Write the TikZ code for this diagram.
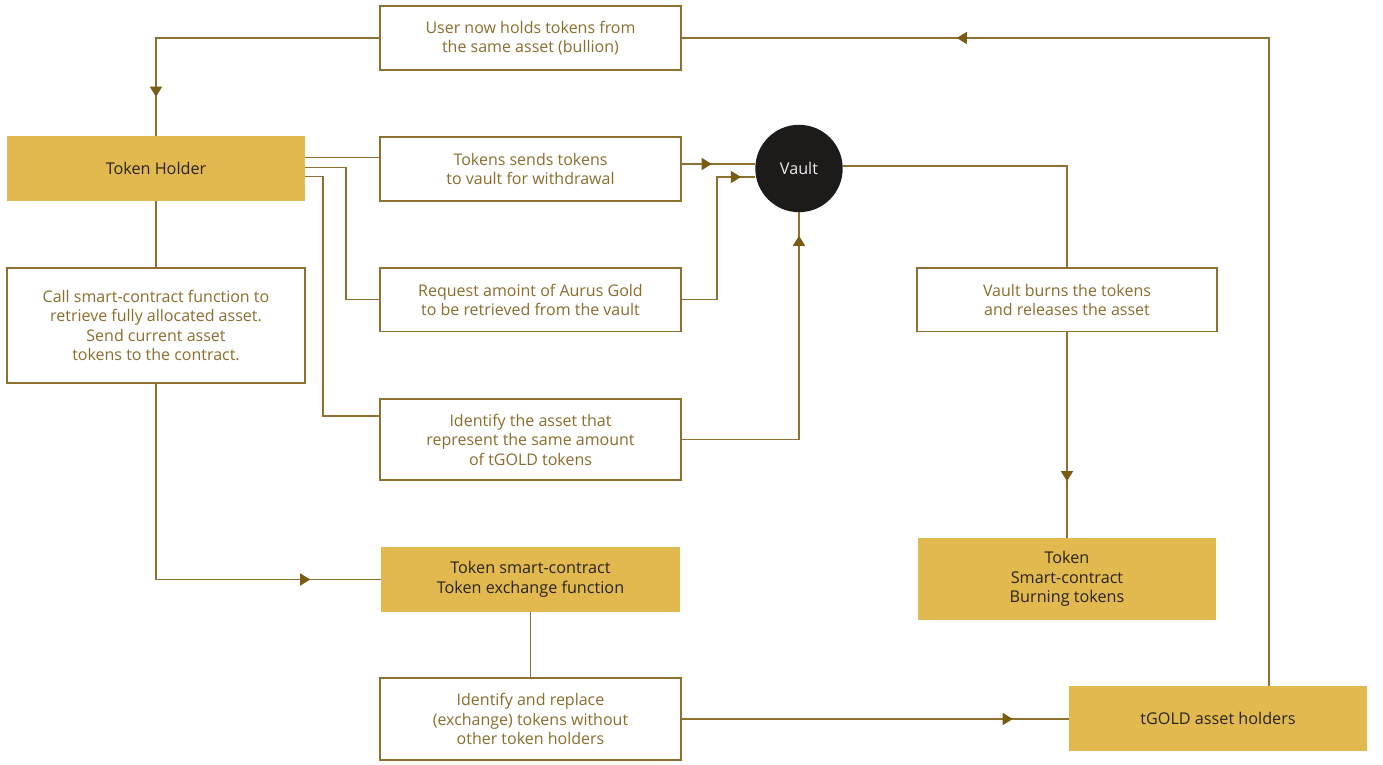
\documentclass[tikz,border=0pt]{standalone}
\usepackage{fontspec}
\setmainfont{Open Sans}
\usetikzlibrary{arrows.meta,decorations.markings}
\definecolor{linec}{HTML}{8E7130}
\definecolor{arrowc}{HTML}{7B5B12}
\definecolor{textc}{HTML}{8B6D2E}
\definecolor{goldfill}{HTML}{E2B94F}
\definecolor{darktext}{HTML}{2A241A}
\definecolor{vaultc}{HTML}{1D1B19}
\pgfdeclarelayer{bg}
\pgfsetlayers{bg,main}
\tikzset{
  wbox/.style={draw=linec, line width=1.4pt, fill=white, text=textc, align=center, inner sep=0pt,
    font=\fontsize{16}{19.5}\selectfont},
  gbox/.style={fill=goldfill, draw=none, text=darktext, align=center, inner sep=0pt,
    font=\fontsize{16.2}{19.5}\selectfont},
  vaultnode/.style={circle, fill=vaultc, text=white!92!black, minimum size=87.4pt, inner sep=0pt,
    font=\fontsize{16.2}{19.5}\selectfont},
  flow/.style={draw=linec, line width=1.4pt},
  marrow/.style={postaction={decorate, decoration={markings,
    mark=at position #1 with {\arrow[arrowc]{Triangle[length=10pt,width=12pt]}}}}}
}
\begin{document}
\begin{tikzpicture}[x=1pt,y=-1pt]
\useasboundingbox (0,0) rectangle (1383,765);
% nodes
\node[wbox, minimum width=301pt, minimum height=64pt] (top) at (530.5,38) {User now holds tokens from\\the same asset (bullion)};
\node[gbox, minimum width=298pt, minimum height=65pt] (holder) at (156,168.5) {Token Holder};
\node[wbox, minimum width=301pt, minimum height=64pt] (send) at (530.5,169) {Tokens sends tokens\\to vault for withdrawal};
\node[vaultnode] (vault) at (799,168.5) {Vault};
\node[wbox, minimum width=298pt, minimum height=115pt] (call) at (156,325.5) {Call smart-contract function to\\retrieve fully allocated asset.\\Send current asset\\tokens to the contract.};
\node[wbox, minimum width=301pt, minimum height=63.5pt] (request) at (530.5,299.75) {Request amoint of Aurus Gold\\to be retrieved from the vault};
\node[wbox, minimum width=300pt, minimum height=63.5pt] (burns) at (1067,299.75) {Vault burns the tokens\\and releases the asset};
\node[wbox, minimum width=301pt, minimum height=81pt] (ident) at (530.5,439.5) {Identify the asset that\\represent the same amount\\of tGOLD tokens};
\node[gbox, minimum width=299pt, minimum height=65pt] (exch) at (530.5,579.5) {Token smart-contract\\Token exchange function};
\node[gbox, minimum width=298pt, minimum height=82pt] (burntok) at (1067,579) {Token\\Smart-contract\\Burning tokens};
\node[wbox, minimum width=301pt, minimum height=82pt] (replace) at (530.5,719) {Identify and replace\\(exchange) tokens without\\other token holders};
\node[gbox, minimum width=298pt, minimum height=65pt] (tgold) at (1218,718.5) {tGOLD asset holders};
% connectors
\begin{pgfonlayer}{bg}
\draw[flow, marrow=282pt] (top.west) -| (holder.north);
\draw[flow, marrow=960pt] ([xshift=51pt]tgold.north) |- (top.east);
\draw[flow] ([yshift=11.2pt]holder.east) coordinate (h1) -- (h1 -| send.west);
\draw[flow] ([yshift=1pt]holder.east) -| ([xshift=-33.5pt]request.west) -- (request.west);
\draw[flow] ([yshift=-8pt]holder.east) -| ([xshift=-56.5pt,yshift=23.5pt]ident.west) -- ([yshift=23.5pt]ident.west);
\draw[flow, marrow=30pt] ([yshift=5pt]send.east) coordinate (s1) -- (s1 -| vault.west);
\draw[flow, marrow=182pt] (request.east) -| ([xshift=-38pt,yshift=-8.5pt]vault.west) -- ([yshift=-8.5pt]vault.west);
\draw[flow, marrow=321pt] (ident.east) -| (vault.south);
\draw[flow] ([yshift=2.5pt]vault.east) -| (burns.north);
\draw[flow, marrow=149pt] (burns.south) -- (burntok.north);
\draw[flow] (holder.south) -- (call.north);
\draw[flow, marrow=350pt] (call.south) |- (exch.west);
\draw[flow] (exch.south) -- (replace.north);
\draw[flow, marrow=331pt] (replace.east) coordinate (r1) -- (r1 -| tgold.west);
\end{pgfonlayer}
\end{tikzpicture}
\end{document}
